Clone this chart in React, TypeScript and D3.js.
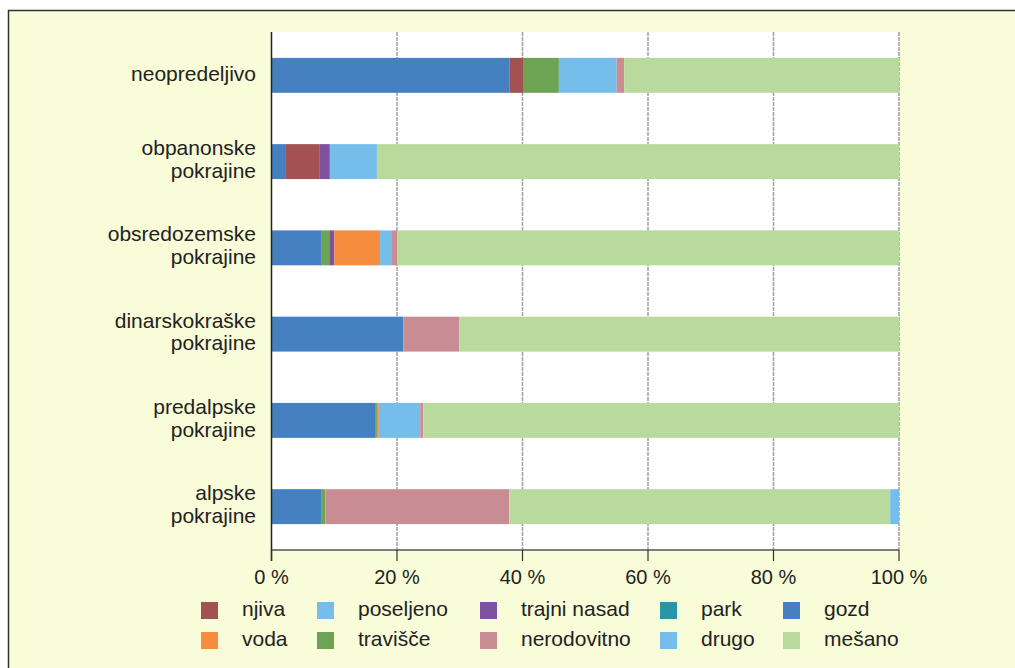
import React from 'react'
import * as d3 from 'd3'

const categories = ['neopredeljivo', 'obpanonske pokrajine', 'obsredozemske pokrajine', 'dinarskokraške pokrajine', 'predalpske pokrajine', 'alpske pokrajine']

// shares (%) per category, in the order of categories
const gozd = [37.9, 2.3, 7.9, 21.0, 16.5, 7.9]
const njiva = [2.3, 5.3, 0, 0, 0, 0]
const travisce = [5.6, 0, 1.3, 0, 0.3, 0.7]
const trajniNasad = [0, 1.7, 0.8, 0, 0, 0]
const voda = [0, 0, 7.3, 0, 0.3, 0]
const poseljeno = [9.2, 7.5, 1.9, 0, 6.6, 0]
const nerodovitno = [1.2, 0, 0.8, 8.9, 0.5, 29.3]
const park = [0, 0, 0, 0, 0, 0]
const mesano = [43.8, 83.2, 80.0, 70.1, 75.8, 60.7]
const drugo = [0, 0, 0, 0, 0, 1.4]

const xTicks = [0, 20, 40, 60, 80, 100]

const series = [
  { key: 'gozd', values: gozd, color: '#4580c1' },
  { key: 'njiva', values: njiva, color: '#a35253' },
  { key: 'travišče', values: travisce, color: '#6ca453' },
  { key: 'trajni nasad', values: trajniNasad, color: '#7e52a0' },
  { key: 'voda', values: voda, color: '#f58c3e' },
  { key: 'poseljeno', values: poseljeno, color: '#75bdea' },
  { key: 'nerodovitno', values: nerodovitno, color: '#ca8c93' },
  { key: 'park', values: park, color: '#2896a8' },
  { key: 'mešano', values: mesano, color: '#b8db9d' },
  { key: 'drugo', values: drugo, color: '#75bdea' },
]

// legend layout: two rows, five columns
const legendRows = [
  ['njiva', 'poseljeno', 'trajni nasad', 'park', 'gozd'],
  ['voda', 'travišče', 'nerodovitno', 'drugo', 'mešano'],
]
const legendCols = [201, 317, 480, 660, 783]

const font = '"Liberation Sans", Arial, sans-serif'
const ink = '#222'

const App = () => {
  const left = 271.5
  const right = 899
  const top = 32
  const bottom = 550

  const xScale = d3.scaleLinear().domain([0, 100]).range([left, right])
  const yScale = d3.scaleBand<string>()
    .domain(categories)
    .range([top, bottom])
    .paddingInner(0.595)
    .paddingOuter(0.3)

  const table = categories.map((c, i) => {
    const row: any = { category: c }
    series.forEach(s => { row[s.key] = s.values[i] })
    return row
  })
  const stacked = d3.stack().keys(series.map(s => s.key))(table)
  const colorOf = (k: string) => series.find(s => s.key === k)!.color

  return (
    <svg width={1015} height={668} style={{ position: 'absolute', left: 0, top: 0 }}>
      <rect x={0} y={0} width={1015} height={668} fill='#fff' />
      <rect x={8.5} y={10.5} width={1020} height={670} fill='#f8fcd8' stroke='#333' strokeWidth={1.5} />
      <rect x={left} y={top} width={right - left} height={bottom - top} fill='#fff' />

      {xTicks.filter(t => t > 0).map(t => (
        <line key={t} x1={xScale(t)} x2={xScale(t)} y1={top} y2={bottom}
          stroke='#a0a0a0' strokeWidth={1.5} strokeDasharray='4 1' />
      ))}

      {stacked.map(layer => (
        <g key={layer.key} fill={colorOf(layer.key)}>
          {layer.map((d, i) => (
            d[1] - d[0] > 0 ? (
              <rect key={i} x={xScale(d[0])} y={yScale(categories[i])}
                width={xScale(d[1]) - xScale(d[0])} height={yScale.bandwidth()} />
            ) : null
          ))}
        </g>
      ))}

      <line x1={left} x2={right} y1={bottom} y2={bottom} stroke='#555' strokeWidth={1.5} />
      <line x1={left} x2={left} y1={top} y2={561} stroke='#222' strokeWidth={1.5} />
      {xTicks.map(t => (
        <g key={t} transform={`translate(${xScale(t)},0)`}>
          <line y1={bottom} y2={561} stroke='#333' strokeWidth={1.2} />
          <text y={584} textAnchor='middle' fontFamily={font} fontSize={20} fill={ink}>{t} %</text>
        </g>
      ))}

      {categories.map(c => {
        const cy = yScale(c)! + yScale.bandwidth() / 2
        const words = c.split(' ')
        return (
          <text key={c} textAnchor='end' fontFamily={font} fontSize={21} fill={ink}>
            {words.length === 1
              ? <tspan x={256} y={cy + 6}>{c}</tspan>
              : words.map((w, j) => <tspan key={j} x={256} y={cy - 6.5 + j * 22.7}>{w}</tspan>)}
          </text>
        )
      })}

      {legendRows.map((row, r) => row.map((k, ci) => (
        <g key={k} transform={`translate(${legendCols[ci]},${602 + r * 30})`}>
          <rect width={17} height={17} fill={colorOf(k)} />
          <text x={41} y={14} fontFamily={font} fontSize={21} fill={ink}>{k}</text>
        </g>
      )))}
    </svg>
  )
}

export default App
